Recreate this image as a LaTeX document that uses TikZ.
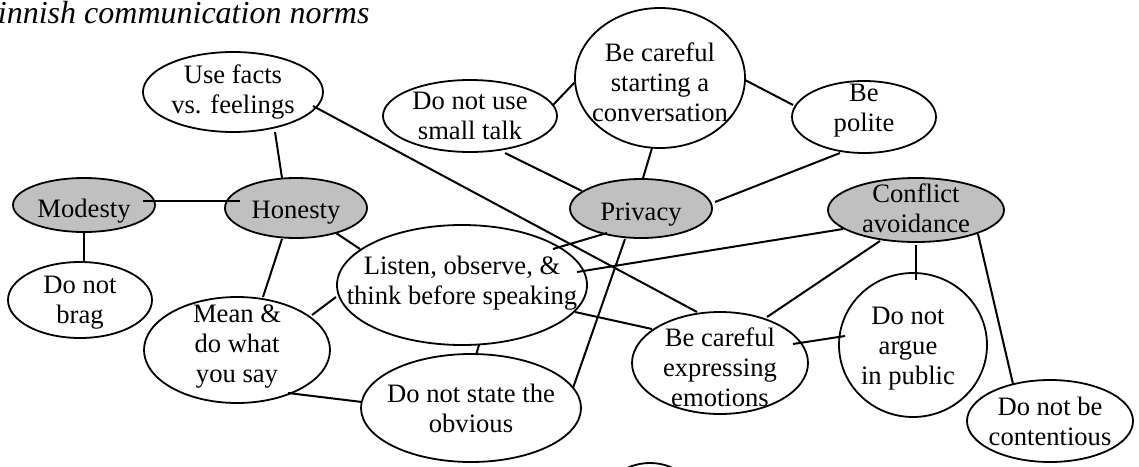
\documentclass[tikz,border=0pt]{standalone}
\usepackage{fontspec}
\setmainfont{Liberation Serif}
\usetikzlibrary{shapes.geometric,calc}
\tikzset{
  oval/.style={ellipse, draw, line width=0.9pt, inner sep=0pt, fill=white},
  key/.style={oval, fill=keygray},
  txt/.style={align=center, inner sep=0pt, font=\fontsize{13.3}{15}\selectfont},
  conn/.style={line width=1pt},
}
\definecolor{keygray}{HTML}{C0C0C0}
\newcommand\linkit[6]{\draw[conn] ($(#1)+(#2,#3)$) -- ($(#4)+(#5,#6)$);}
\begin{document}
\begin{tikzpicture}[x=0.5pt,y=-0.5pt]
\clip (0,0) rectangle (1139,466);
% title
\node[anchor=base west, inner sep=0pt, font=\fontsize{16}{19}\selectfont\itshape] (title) at (-22,24) {Finnish communication norms};
% nodes
\node[oval, minimum width=90pt, minimum height=40pt, label={[txt]center:{Use facts\\vs. feelings}}] (uf) at (233,92) {};
\node[oval, minimum width=87pt, minimum height=36pt, label={[txt]center:{Do not use\\small talk}}] (st) at (470,116) {};
\node[oval, minimum width=85pt, minimum height=70pt, label={[txt,yshift=-2.25pt]center:{Be careful\\starting a\\conversation}}] (bcs) at (660,78) {};
\node[oval, minimum width=72pt, minimum height=36pt, label={[txt,yshift=3pt]center:{Be\\polite}}] (bp) at (864,117) {};
\node[key, minimum width=88pt, minimum height=32pt, label={[txt,yshift=1pt]center:{Conflict\\avoidance}}] (ca) at (916,210) {};
\node[key, minimum width=71pt, minimum height=27pt, label={[txt,yshift=-3pt]center:{Modesty}}] (mod) at (84,205) {};
\node[key, minimum width=71pt, minimum height=30pt, label={[txt,yshift=-2.5pt]center:{Honesty}}] (hon) at (296,208) {};
\node[oval, minimum width=72pt, minimum height=38pt, label={[txt,yshift=-1.5pt]center:{Do not\\brag}}] (brag) at (80,300) {};
\node[oval, minimum width=93pt, minimum height=53pt, label={[txt,yshift=1.75pt]center:{Mean \&\\do what\\you say}}] (mean) at (237,350) {};
\node[oval, minimum width=125pt, minimum height=60pt, label={[txt,yshift=0.75pt]center:{Listen, observe, \&\\think before speaking}}] (lis) at (462,285) {};
\node[key, minimum width=71pt, minimum height=29.5pt, label={[txt,yshift=-3.25pt]center:{Privacy}}] (priv) at (641,208.5) {};
\node[oval, minimum width=110pt, minimum height=54pt, label={[txt]center:{Do not state the\\obvious}}] (obv) at (471,408) {};
\node[oval, minimum width=88pt, minimum height=51pt, label={[txt,yshift=-2pt]center:{Be careful\\expressing\\emotions}}] (emo) at (720,363) {};
\node[oval, minimum width=74pt, minimum height=72pt, label={[txt,yshift=-2pt,xshift=-2.5pt]center:{Do not\\argue\\in public}}] (arg) at (913,345) {};
\node[oval, minimum width=83pt, minimum height=41pt, label={[txt]center:{Do not be\\contentious}}] (cont) at (1050,421) {};
% partly visible shape at the bottom edge
\draw[line width=0.9pt] (650,503) ellipse (47 and 40);
% connectors
\linkit{uf}{42}{40}{hon}{-14}{-30}
\linkit{uf}{80}{14}{emo}{-23}{-51}
\linkit{mod}{59}{-4}{hon}{-56}{-7}
\linkit{mod}{0}{27}{brag}{4}{-39}
\linkit{hon}{40}{25}{lis}{-102}{-36}
\linkit{hon}{-14}{31}{mean}{26}{-53}
\linkit{mean}{75}{-35}{lis}{-126}{12}
\linkit{mean}{51}{43}{obv}{-109}{-6}
\linkit{st}{35}{37}{priv}{-59}{-17.5}
\linkit{st}{83}{-11}{bcs}{-85}{4}
\linkit{bcs}{-8}{70}{priv}{2}{-30.5}
\linkit{bcs}{85}{2}{bp}{-71}{-12}
\linkit{bp}{-24}{36}{priv}{74}{-6.5}
\linkit{priv}{-34}{24.5}{lis}{91}{-36}
\linkit{priv}{-16}{30.5}{obv}{102}{-20}
\linkit{ca}{-73}{19}{lis}{115}{-13}
\linkit{lis}{113}{27}{emo}{-68}{-34}
\linkit{lis}{17}{60}{obv}{5}{-53}
\linkit{ca}{-36}{31}{emo}{47}{-46}
\linkit{ca}{0}{35}{arg}{3}{-65}
\linkit{ca}{62}{24}{cont}{-37}{-37}
\linkit{emo}{73}{-19}{arg}{-68}{-9}
\end{tikzpicture}
\end{document}
